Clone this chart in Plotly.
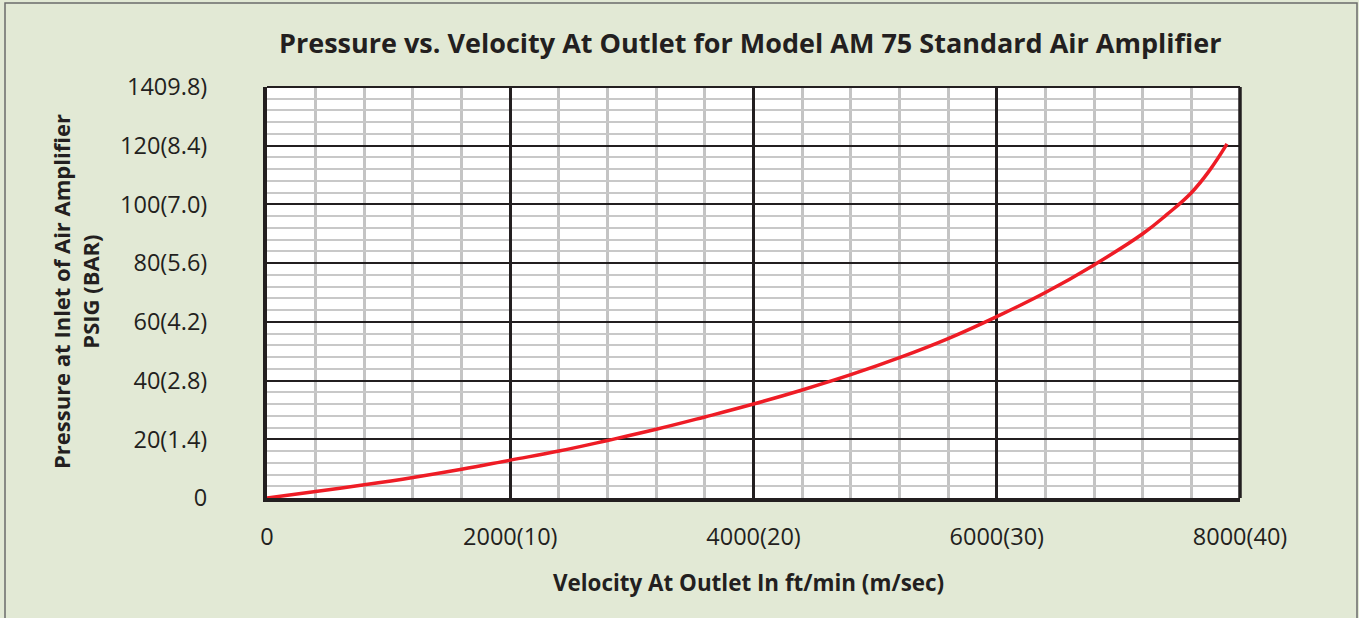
import plotly.graph_objects as go

# Data
velocity = [0, 400, 800, 1200, 1600, 2000, 2400, 2800, 3200, 3600, 4000, 4400, 4800,
            5200, 5600, 6000, 6400, 6800, 7200, 7400, 7600, 7750, 7893]
pressure = [0, 2.2, 4.5, 7.0, 9.8, 12.9, 16.0, 19.6, 23.4, 27.6, 32.0, 36.8, 42.0,
            47.8, 54.3, 61.8, 70.0, 79.4, 90.0, 96.6, 104.0, 111.6, 120.6]

x_tick_vals = [0, 2000, 4000, 6000, 8000]
x_tick_text = ["0", "2000(10)", "4000(20)", "6000(30)", "8000(40)"]
y_tick_vals = [0, 20, 40, 60, 80, 100, 120, 140]
y_tick_text = ["0", "20(1.4)", "40(2.8)", "60(4.2)", "80(5.6)", "100(7.0)", "120(8.4)", "1409.8)"]

title_text = "Pressure vs. Velocity At Outlet for Model AM 75 Standard Air Amplifier"
x_title = "Velocity At Outlet In ft/min (m/sec)"
y_title = "Pressure at Inlet of Air Amplifier<br>PSIG (BAR)"

FONT = "Open Sans"
BG = "#e2e9d5"
INK = "#231f20"

fig = go.Figure()
fig.add_trace(go.Scatter(
    x=velocity, y=pressure, mode="lines",
    line=dict(color="#ee1c25", width=3.5, shape="spline", smoothing=1.2),
    hoverinfo="x+y", showlegend=False,
))

fig.update_layout(
    width=1359, height=618,
    margin=dict(l=267, r=119, t=87, b=120),
    paper_bgcolor=BG, plot_bgcolor="white",
    font=dict(family=FONT, color=INK),
    showlegend=False,
)

fig.update_xaxes(
    range=[0, 8000], tickvals=x_tick_vals, ticktext=x_tick_text,
    tickfont=dict(family=FONT, size=23.5, color=INK),
    showgrid=True, gridcolor=INK, gridwidth=3,
    minor=dict(dtick=400, tick0=0, showgrid=True, gridcolor="#c4c4c4", gridwidth=3),
    showline=True, linecolor=INK, linewidth=4,
    ticks="", ticklabelstandoff=15, zeroline=False, fixedrange=True,
)
fig.update_yaxes(
    range=[0, 140], tickvals=y_tick_vals, ticktext=y_tick_text,
    tickfont=dict(family=FONT, size=23.5, color=INK),
    showgrid=True, gridcolor=INK, gridwidth=1.5,
    minor=dict(dtick=4, tick0=0, showgrid=True, gridcolor="#c8c8c8", gridwidth=2),
    showline=True, linecolor=INK, linewidth=4,
    ticks="", ticklabelstandoff=51, zeroline=False, fixedrange=True,
)

# frame: top and right plot edges
fig.add_shape(type="line", xref="paper", yref="paper", x0=0, x1=1, y0=1, y1=1,
              line=dict(color=INK, width=2))
fig.add_shape(type="line", xref="paper", yref="paper", x0=1, x1=1, y0=0, y1=1,
              line=dict(color=INK, width=3.5))

# outer figure border
pw, ph = 973.0, 411.0
fig.add_shape(type="rect", xref="paper", yref="paper",
              x0=(5 - 267) / pw, x1=(1357 - 267) / pw,
              y0=(498 - 625) / ph, y1=(498 - 3) / ph,
              line=dict(color="#6b6b6b", width=1.5), layer="below")

# title
fig.add_annotation(text=title_text, xref="paper", yref="paper",
                   x=(750 - 267) / pw, y=(498 - 43) / ph, showarrow=False,
                   xanchor="center", yanchor="middle",
                   font=dict(family=FONT, size=27, color=INK, weight="bold"))
# x-axis title
fig.add_annotation(text=x_title, xref="paper", yref="paper",
                   x=(748 - 267) / pw, y=(498 - 582) / ph, showarrow=False,
                   xanchor="center", yanchor="middle",
                   font=dict(family=FONT, size=22.4, color=INK, weight="bold"))
# y-axis title
fig.add_annotation(text=y_title, xref="paper", yref="paper",
                   x=(75 - 267) / pw, y=(498 - 292) / ph, showarrow=False,
                   xanchor="center", yanchor="middle", textangle=-90,
                   font=dict(family=FONT, size=22, color=INK, weight="bold"))

fig.write_html("out.html", config={"displayModeBar": False},
               post_script="document.body.style.margin='0';document.body.style.overflow='hidden';")
